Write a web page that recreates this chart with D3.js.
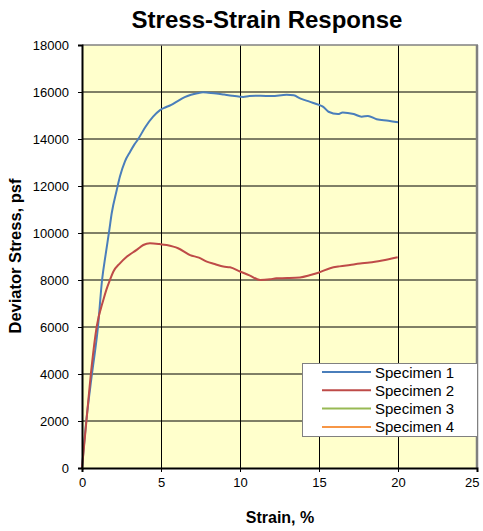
<!DOCTYPE html>
<html><head><meta charset="utf-8">
<script src="https://cdn.jsdelivr.net/npm/d3@7"></script>
<style>body{margin:0;background:#fff}svg{display:block;font-family:"Liberation Sans",Arial,sans-serif}</style>
</head><body><svg id="c" width="483" height="531"></svg>
<script>
const title = "Stress-Strain Response";
const xLabel = "Strain, %";
const yLabel = "Deviator Stress, psf";
const xTicks = [0, 5, 10, 15, 20, 25];
const yTicks = [0, 2000, 4000, 6000, 8000, 10000, 12000, 14000, 16000, 18000];
const seriesNames = ["Specimen 1", "Specimen 2", "Specimen 3", "Specimen 4"];
const seriesColors = ["#4A7EBB", "#BE4B48", "#98B954", "#F79646"];

const strain1 = [0, 0.27, 0.63, 1.01, 1.27, 1.5, 1.73, 1.88, 2.2, 2.4, 2.72, 3.04, 3.3, 3.56, 4.0, 4.5, 4.94, 5.3, 5.65, 6.0, 6.5, 6.9, 7.3, 7.66, 8.0, 8.5, 9.0, 9.5, 10.0, 10.2, 10.6, 11.3, 12.0, 12.95, 13.4, 13.8, 14.4, 15.0, 15.27, 15.6, 16.2, 16.5, 17.2, 17.7, 18.1, 18.65, 19.4, 20.0];
const stress1 = [0, 2000, 4000, 6000, 8000, 9100, 10130, 10840, 11830, 12400, 13050, 13450, 13750, 14000, 14500, 14950, 15230, 15350, 15450, 15590, 15780, 15880, 15950, 15990, 15970, 15940, 15890, 15840, 15800, 15790, 15830, 15840, 15830, 15880, 15860, 15730, 15590, 15450, 15370, 15160, 15060, 15130, 15060, 14950, 14980, 14840, 14780, 14710];

const strain2 = [0, 0.28, 0.61, 0.93, 1.35, 1.55, 1.77, 1.98, 2.4, 2.83, 3.46, 3.88, 4.3, 4.9, 5.36, 5.78, 6.08, 6.84, 7.4, 7.9, 8.4, 8.94, 9.37, 10.0, 10.6, 11.27, 11.9, 12.3, 13.0, 13.8, 14.4, 14.96, 15.7, 16.3, 16.96, 17.6, 18.2, 19.0, 19.98];
const stress2 = [0, 2000, 4310, 6010, 7150, 7600, 8000, 8350, 8710, 8990, 9280, 9490, 9560, 9530, 9490, 9420, 9350, 9060, 8950, 8780, 8680, 8570, 8540, 8360, 8200, 8000, 8030, 8070, 8080, 8110, 8200, 8310, 8500, 8580, 8640, 8700, 8740, 8830, 8970];

const strain3 = [];
const stress3 = [];
const strain4 = [];
const stress4 = [];

const series = [
  {name: seriesNames[0], color: seriesColors[0], xs: strain1, ys: stress1},
  {name: seriesNames[1], color: seriesColors[1], xs: strain2, ys: stress2},
  {name: seriesNames[2], color: seriesColors[2], xs: strain3, ys: stress3},
  {name: seriesNames[3], color: seriesColors[3], xs: strain4, ys: stress4}
];

const L = 82, R = 477, T = 45, B = 468;
const svg = d3.select("#c");
const x = d3.scaleLinear().domain([0, 25]).range([L, R]);
const y = d3.scaleLinear().domain([0, 18000]).range([B, T]);

svg.append("rect").attr("x", L).attr("y", T).attr("width", R - L).attr("height", B - T).attr("fill", "#FFFFCC");

// horizontal gridlines
svg.append("g").selectAll("line").data(yTicks.filter(d => d > 0 && d < 18000)).join("line")
  .attr("x1", L).attr("x2", R).attr("y1", d => y(d)).attr("y2", d => y(d))
  .attr("stroke", "#000").attr("stroke-width", 1);
// vertical gridlines
svg.append("g").selectAll("line").data(xTicks.filter(d => d > 0 && d < 25)).join("line")
  .attr("y1", T).attr("y2", B).attr("x1", d => Math.round(x(d)) + 0.5).attr("x2", d => Math.round(x(d)) + 0.5)
  .attr("stroke", "#000").attr("stroke-width", 1);
// top & right borders
svg.append("line").attr("x1", L).attr("x2", R + 1).attr("y1", T).attr("y2", T).attr("stroke", "#808080").attr("stroke-width", 1.5);
svg.append("line").attr("x1", R).attr("x2", R).attr("y1", T).attr("y2", B).attr("stroke", "#808080").attr("stroke-width", 2.5);

// series
const line = d3.line().x(d => x(d[0])).y(d => y(d[1])).curve(d3.curveMonotoneX);
series.forEach(s => {
  if (!s.xs.length) return;
  svg.append("path").datum(d3.zip(s.xs, s.ys)).attr("d", line)
    .attr("fill", "none").attr("stroke", s.color).attr("stroke-width", 2).attr("stroke-linejoin", "round");
});

// axes
const yAxis = svg.append("g").attr("transform", `translate(${L},0)`)
  .call(d3.axisLeft(y).tickValues(yTicks).tickSize(4).tickPadding(9).tickFormat(d3.format("d")));
const xAxis = svg.append("g").attr("transform", `translate(0,${B})`)
  .call(d3.axisBottom(x).tickValues(xTicks).tickSize(4).tickPadding(6).tickFormat(d3.format("d")));
[yAxis, xAxis].forEach(g => {
  g.select(".domain").attr("stroke", "#000").attr("stroke-width", 2);
  g.selectAll(".tick line").attr("stroke", "#000");
  g.selectAll("text").attr("font-size", 13).attr("fill", "#000").attr("font-family", "Liberation Sans, Arial, sans-serif");
});
// keep the last x label inside the picture
xAxis.selectAll(".tick text").filter(d => d === 25).attr("text-anchor", "end").attr("dx", 2);

// title and labels
svg.append("text").attr("x", 267).attr("y", 28).attr("text-anchor", "middle")
  .attr("font-size", 24).attr("font-weight", "bold").text(title);
svg.append("text").attr("x", 280).attr("y", 523).attr("text-anchor", "middle")
  .attr("font-size", 16).attr("font-weight", "bold").text(xLabel);
svg.append("text").attr("transform", `translate(21,256) rotate(-90)`).attr("text-anchor", "middle")
  .attr("font-size", 16.5).attr("font-weight", "bold").text(yLabel);

// legend
const lg = svg.append("g");
lg.append("rect").attr("x", 302.5).attr("y", 363.5).attr("width", 175).attr("height", 73)
  .attr("fill", "#fff").attr("stroke", "#808080").attr("stroke-width", 1);
series.forEach((s, i) => {
  const yy = 372 + i * 18.3;
  lg.append("line").attr("x1", 322).attr("x2", 371).attr("y1", yy).attr("y2", yy)
    .attr("stroke", s.color).attr("stroke-width", 2);
  lg.append("text").attr("x", 375).attr("y", yy + 5.5).attr("font-size", 15).attr("fill", "#000").text(s.name);
});
</script></body></html>
